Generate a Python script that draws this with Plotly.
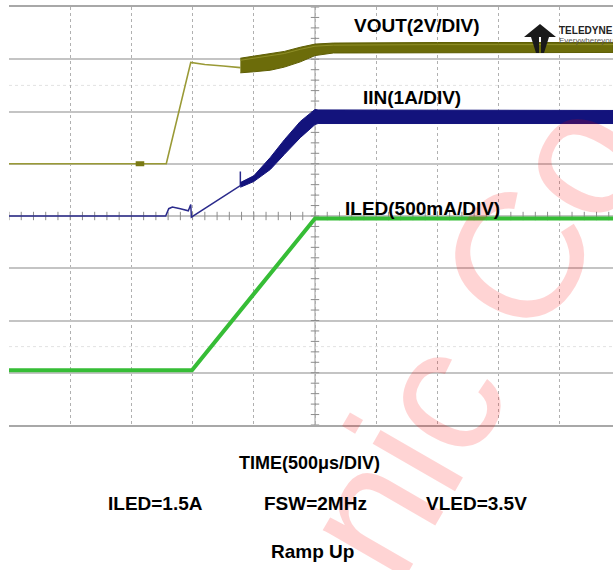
import numpy as np
import plotly.graph_objects as go

# scope capture: time in divisions (500 us/div), amplitude in screen divisions
vout_t = [0.0, 2.57, 2.97, 3.2, 3.5, 3.78]
vout_y = [1.0, 1.0, 2.94, 2.9, 2.87, 2.84]
vout_blob_t = [2.07, 2.21]
vout_blob_y = [1.0, 1.0]
vout_band_t = [3.78, 4.0, 4.27, 4.5, 4.76, 5.0, 5.3, 6.0, 7.0, 8.0, 9.0, 9.87]
vout_band_hi = [3.02, 3.06, 3.10, 3.15, 3.23, 3.29, 3.31, 3.32, 3.32, 3.32, 3.32, 3.32]
vout_band_lo = [2.74, 2.76, 2.79, 2.85, 2.95, 3.07, 3.12, 3.13, 3.13, 3.13, 3.13, 3.13]

iin_t = [0.0, 2.56, 2.61, 2.67, 2.8, 2.93, 2.97, 2.97, 2.98, 3.78, 3.78, 3.78]
iin_y = [0.0, 0.0, 0.14, 0.17, 0.14, 0.10, 0.22, 0.05, -0.02, 0.58, 0.85, 0.58]
iin_band_t = [3.78, 4.0, 4.27, 4.5, 4.76, 5.0, 5.05, 9.87]
iin_band_hi = [0.64, 0.77, 1.12, 1.46, 1.81, 2.04, 2.03, 2.02]
iin_band_lo = [0.55, 0.66, 0.89, 1.18, 1.50, 1.75, 1.77, 1.77]

iled_t = [0.0, 2.99, 5.0, 9.87]
iled_y = [-2.95, -2.95, -0.05, -0.05]

channel_labels = ["VOUT(2V/DIV)", "IIN(1A/DIV)", "ILED(500mA/DIV)"]
footer_labels = ["ILED=1.5A", "FSW=2MHz", "VLED=3.5V"]

W, H = 613, 570
PLOT_L, PLOT_T, PLOT_B = 9, 7, 425
FONT = "Arial, Liberation Sans, sans-serif"
NARROW = "Liberation Sans Narrow, Arial Narrow, sans-serif"


def px(x):
    return (x - PLOT_L) / (W - PLOT_L)


def py(y):
    return (PLOT_B - y) / (PLOT_B - PLOT_T)


def dx(x):
    return (x - PLOT_L) / 61.2


def dy(y):
    return (216 - y) / 52.25


def band(fig, t, hi, lo, fill, edge):
    fig.add_trace(go.Scatter(x=list(t) + list(t)[::-1], y=list(hi) + list(lo)[::-1], fill="toself",
                             fillcolor=fill, mode="lines", line={"color": edge, "width": 1}))


fig = go.Figure()

# graticule center-line ticks
fig.add_trace(go.Scatter(x=np.arange(0, 9.9, 0.2), y=np.zeros(50), mode="markers",
                         marker={"symbol": "line-ns", "size": 6, "line": {"color": "#8c8c8c", "width": 1}}))
fig.add_trace(go.Scatter(x=np.full(41, 5.0), y=np.arange(-4, 4.01, 0.2), mode="markers",
                         marker={"symbol": "line-ew", "size": 6, "line": {"color": "#8c8c8c", "width": 1}}))

fig.add_trace(go.Scatter(x=vout_t, y=vout_y, mode="lines", line={"color": "#9a9a36", "width": 1.6}))
fig.add_trace(go.Scatter(x=vout_blob_t, y=vout_blob_y, mode="lines", line={"color": "#7a7a14", "width": 5}))
band(fig, vout_band_t, vout_band_hi, vout_band_lo, "#6c6c0a", "#5e5e04")
fig.add_trace(go.Scatter(x=vout_band_t, y=[a - 0.04 for a in vout_band_hi],
                         mode="lines", line={"color": "#8f8f28", "width": 1}))

fig.add_trace(go.Scatter(x=iin_t, y=iin_y, mode="lines", line={"color": "#2b2b8c", "width": 1.5}))
band(fig, iin_band_t, iin_band_hi, iin_band_lo, "#13137c", "#13137c")

fig.add_trace(go.Scatter(x=iled_t, y=iled_y, mode="lines", line={"color": "#36bd36", "width": 4}))

annotations = [
    dict(text="nic Co", x=px(472), y=py(336), textangle=-60,
         font={"family": FONT, "size": 180, "color": "rgba(255,0,0,0.17)"}),
]
for text, (x, y) in zip(channel_labels, [(417, 26), (412, 97), (422, 208)]):
    annotations.append(dict(text=f"<b>{text}</b>", x=px(x), y=py(y), font={"family": FONT, "size": 19, "color": "black"}))
annotations.append(dict(text="<b>TIME(500μs/DIV)</b>", x=px(309), y=py(463), font={"family": FONT, "size": 18, "color": "black"}))
for text, x in zip(footer_labels, [155, 315, 476]):
    annotations.append(dict(text=f"<b>{text}</b>", x=px(x), y=py(503), font={"family": FONT, "size": 19, "color": "black"}))
annotations.append(dict(text="<b>Ramp Up</b>", x=px(312), y=py(551), font={"family": FONT, "size": 19, "color": "black"}))
annotations.append(dict(text="<b>TELEDYNE</b> LECROY", x=px(557), y=py(30), xanchor="left",
                        font={"family": NARROW, "size": 10, "color": "#222"}))
annotations.append(dict(text="Everywhereyoulook", x=px(557), y=py(41), xanchor="left",
                        font={"family": NARROW, "size": 8, "color": "#555"}))
for a in annotations:
    a.update(xref="paper", yref="paper", showarrow=False, xanchor=a.get("xanchor", "center"), yanchor="middle")

logo = (f"M{dx(524)},{dy(37)} L{dx(540)},{dy(24)} L{dx(556)},{dy(37)} Z "
        f"M{dx(531)},{dy(37)} L{dx(539)},{dy(37)} L{dx(539)},{dy(53)} L{dx(536)},{dy(53)} Z "
        f"M{dx(541)},{dy(37)} L{dx(549)},{dy(37)} L{dx(544)},{dy(53)} L{dx(541)},{dy(53)} Z")

shapes = [
    dict(type="line", xref="paper", x0=0, x1=1, y0=2.5, y1=2.5, line={"color": "#e2e2e2", "width": 1, "dash": "dot"}, layer="below"),
    dict(type="line", xref="paper", x0=0, x1=1, y0=-2.5, y1=-2.5, line={"color": "#e2e2e2", "width": 1, "dash": "dot"}, layer="below"),
    dict(type="line", xref="paper", x0=0, x1=1, y0=0, y1=0, line={"color": "#9a9a9a", "width": 1.5}, layer="below"),
    dict(type="line", x0=5, x1=5, yref="paper", y0=0, y1=1, line={"color": "#9a9a9a", "width": 1}, layer="below"),
    dict(type="path", path=logo, fillcolor="#1a1a1a", line={"width": 0}),
]

fig.update_layout(
    width=W, height=H,
    margin={"l": PLOT_L, "r": 0, "t": PLOT_T, "b": H - PLOT_B},
    paper_bgcolor="white", plot_bgcolor="white", showlegend=False, hovermode=False,
    annotations=annotations, shapes=shapes,
    xaxis={"range": [0, (W - PLOT_L) / 61.2], "dtick": 1, "tick0": 0, "showgrid": True, "gridcolor": "#b0b0b0",
           "griddash": "dot", "gridwidth": 1, "zeroline": False, "showticklabels": False,
           "showline": True, "mirror": True, "linecolor": "#a8a8a8", "linewidth": 1.5},
    yaxis={"range": [-4, 4], "dtick": 1, "tick0": 0, "showgrid": True, "gridcolor": "#c4c4c4",
           "gridwidth": 1.5, "zeroline": False, "showticklabels": False},
)

# drop the browser's default body margin so the 613x570 figure fills the window
fig.write_html("out.html", config={"displayModeBar": False},
               post_script="document.body.style.margin = '0';")
